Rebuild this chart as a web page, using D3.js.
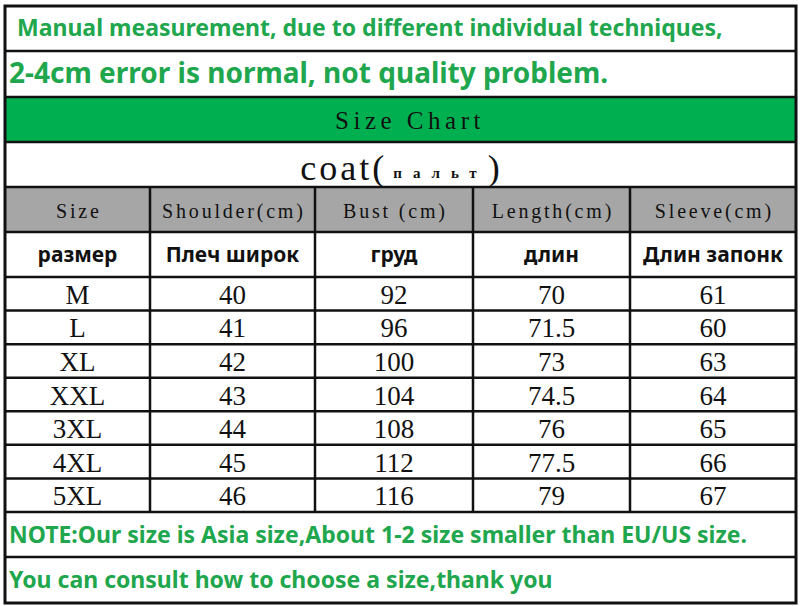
<!DOCTYPE html>
<html>
<head>
<meta charset="utf-8">
<script src="https://cdn.jsdelivr.net/npm/d3@7"></script>
<style>
  body { margin: 0; background: #fff; }
  .green { fill: #20a64d; font-family: "Noto Sans", sans-serif; font-weight: bold; }
  .serif { font-family: "Liberation Serif", serif; fill: #111; }
  .num { font-family: "Liberation Serif", serif; fill: #111; }
  .ru { font-family: "Noto Sans", sans-serif; font-weight: bold; fill: #111; }
</style>
</head>
<body>
<svg width="800" height="606"></svg>
<script>
const notesTop = ["Manual measurement, due to different individual techniques,",
                  "2-4cm error is normal, not quality problem."];
const notesBottom = ["NOTE:Our size is Asia size,About 1-2 size smaller than EU/US size.",
                     "You can consult how to choose a size,thank you"];
const title = "Size Chart";
const garment = "coat", garmentRu = "пальт";
const headers = ["Size", "Shoulder(cm)", "Bust (cm)", "Length(cm)", "Sleeve(cm)"];
const headersRu = ["размер", "Плеч широк", "груд", "длин", "Длин запонк"];
const sizes = ["M", "L", "XL", "XXL", "3XL", "4XL", "5XL"];
const shoulder = [40, 41, 42, 43, 44, 45, 46];
const bust = [92, 96, 100, 104, 108, 112, 116];
const length = [70, 71.5, 73, 74.5, 76, 77.5, 79];
const sleeve = [61, 60, 63, 64, 65, 66, 67];

const svg = d3.select("svg");
const left = 5, right = 796;

// column edges (layout)
const colEdges = [5, 150, 315, 473, 630, 796];
const x = d3.scaleOrdinal().domain(d3.range(5)).range(colEdges.slice(0, 5));
const cw = i => colEdges[i + 1] - colEdges[i];
const cx = i => x(i) + cw(i) / 2;

const y = d3.scaleBand().domain(sizes).range([277, 512]);

const table = sizes.map((s, i) => [s, shoulder[i], bust[i], length[i], sleeve[i]]);

// backgrounds
svg.append("rect").attr("x", left).attr("y", 97).attr("width", right - left).attr("height", 45).attr("fill", "#00b050");
svg.append("rect").attr("x", left).attr("y", 187).attr("width", right - left).attr("height", 45).attr("fill", "#a6a6a6");

// top notes
svg.selectAll(".topnote").data(notesTop).join("text")
  .attr("class", "green topnote")
  .attr("x", (d, i) => i ? 9 : 17)
  .attr("y", (d, i) => i ? 83 : 36)
  .attr("font-size", (d, i) => i ? 28 : 23)
  .text(d => d);

// title band
svg.append("text").attr("class", "serif")
  .attr("x", 410).attr("y", 129).attr("text-anchor", "middle")
  .attr("font-size", 25).attr("letter-spacing", 4.5).text(title);

// garment row
const g = svg.append("text").attr("class", "serif")
  .attr("x", 400).attr("y", 180).attr("text-anchor", "middle");
g.append("tspan").attr("font-size", 36).attr("letter-spacing", 3).text(garment + "(");
g.append("tspan").attr("font-size", 15).attr("font-weight", "bold")
  .attr("letter-spacing", 11).attr("dx", 6).attr("dy", -2).text(garmentRu);
g.append("tspan").attr("font-size", 36).attr("dy", 2).text(")");

// header rows
svg.selectAll(".hdr").data(headers).join("text")
  .attr("class", "serif hdr")
  .attr("x", (d, i) => cx(i) + 1.4).attr("y", 218)
  .attr("text-anchor", "middle").attr("font-size", 20).attr("letter-spacing", 2.8)
  .text(d => d);

svg.selectAll(".hru").data(headersRu).join("text")
  .attr("class", "ru hru")
  .attr("x", (d, i) => cx(i)).attr("y", 262)
  .attr("text-anchor", "middle").attr("font-size", 21)
  .text(d => d);

// data
const rows = svg.selectAll(".row").data(table).join("g")
  .attr("class", "row")
  .attr("transform", (d, i) => `translate(0,${y(sizes[i]) + y.bandwidth() / 2})`);

rows.selectAll("text").data(d => d).join("text")
  .attr("class", "num")
  .attr("x", (d, i) => cx(i)).attr("y", 10)
  .attr("text-anchor", "middle").attr("font-size", 27)
  .text(d => String(d));

// bottom notes
svg.selectAll(".botnote").data(notesBottom).join("text")
  .attr("class", "green botnote")
  .attr("x", 9)
  .attr("y", (d, i) => i ? 588 : 543)
  .attr("font-size", 23)
  .text(d => d);

// grid lines
const hLines = [51, 97, 142, 187, 232, 277, ...sizes.map(s => y(s) + y.bandwidth()), 557];
svg.selectAll(".hl").data(hLines).join("line")
  .attr("x1", left).attr("x2", right)
  .attr("y1", d => d).attr("y2", d => d)
  .attr("stroke", "#111").attr("stroke-width", 2.5);

svg.selectAll(".vl").data(colEdges.slice(1, 5)).join("line")
  .attr("class", "vl")
  .attr("x1", d => d).attr("x2", d => d)
  .attr("y1", 187).attr("y2", 512)
  .attr("stroke", "#111").attr("stroke-width", 2.5);

svg.append("rect")
  .attr("x", left).attr("y", 6).attr("width", right - left).attr("height", 597)
  .attr("fill", "none").attr("stroke", "#111").attr("stroke-width", 3);
</script>
</body>
</html>
